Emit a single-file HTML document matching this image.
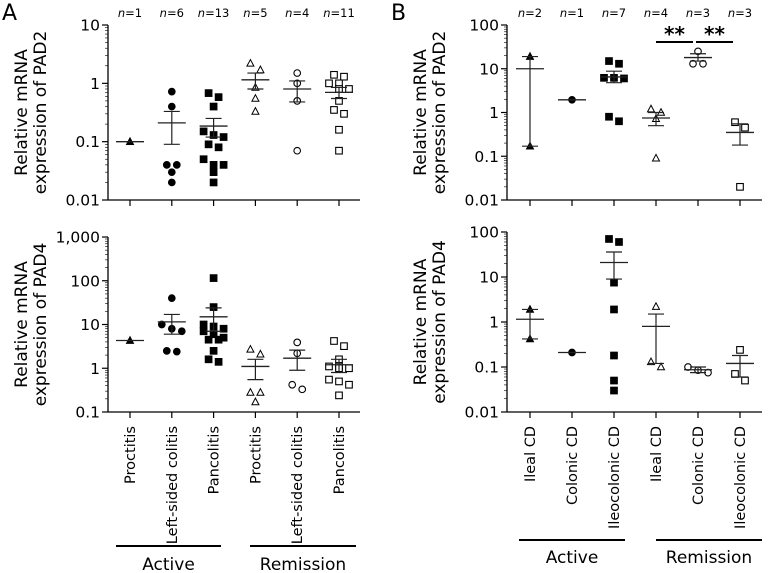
<!DOCTYPE html>
<html><head><meta charset="utf-8"><style>
body{margin:0;background:#fff;}
svg{display:block;font-family:"DejaVu Sans","Liberation Sans",sans-serif;}
</style></head><body>
<svg id="fig" width="775" height="573" viewBox="0 0 775 573"></svg>
<script>
// ---------- Data ----------
const catsA = ["Proctitis","Left-sided colitis","Pancolitis","Proctitis","Left-sided colitis","Pancolitis"];
const catsB = ["Ileal CD","Colonic CD","Ileocolonic CD","Ileal CD","Colonic CD","Ileocolonic CD"];
const nA = ["n=1","n=6","n=13","n=5","n=4","n=11"];
const nB = ["n=2","n=1","n=7","n=4","n=3","n=3"];
const shapes = ["tri","circ","sq","tri","circ","sq"];
const filled = [true,true,true,false,false,false];

const a2Points = [[0.1],[0.72,0.4,0.04,0.04,0.03,0.02],[0.68,0.58,0.4,0.15,0.13,0.12,0.09,0.08,0.05,0.04,0.04,0.03,0.02],[2.2,1.7,0.85,0.55,0.33],[1.5,1.0,0.5,0.07],[1.4,1.3,1.0,1.0,0.8,0.8,0.5,0.35,0.3,0.16,0.07]];
const a2Mean = [0.1,0.21,0.185,1.15,0.8,0.7];
const a2Lo = [0.1,0.09,0.12,0.8,0.48,0.55];
const a2Hi = [0.1,0.33,0.25,1.5,1.1,0.85];

const a4Points = [[4.3],[40,10,8,7,2.5,2.4],[115,25,10,9,8,7,6,5,4.5,4.5,2.5,1.6,1.4],[2.7,2.1,0.28,0.28,0.17],[3.9,2.2,0.42,0.33],[4.2,3.2,1.6,1.1,1.0,1.0,1.1,0.55,0.5,0.42,0.24]];
const a4Mean = [4.3,11.5,15,1.1,1.7,1.2];
const a4Lo = [4.3,6,7,0.55,0.9,0.8];
const a4Hi = [4.3,17,24,1.6,2.6,1.6];

const b2Points = [[19,0.17],[1.95],[15,13,6.2,6.2,6,0.8,0.63],[1.2,1.0,0.72,0.09],[25,13,13],[0.6,0.45,0.02]];
const b2Mean = [10,1.95,6.5,0.75,18,0.35];
const b2Lo = [0.17,1.95,4.8,0.5,15,0.18];
const b2Hi = [19,1.95,8.8,1.0,22,0.55];

const b4Points = [[1.9,0.42],[0.21],[70,60,7.5,1.9,0.18,0.05,0.03],[2.2,0.13,0.1],[0.1,0.085,0.075],[0.24,0.07,0.05]];
const b4Mean = [1.15,0.21,21,0.8,0.087,0.12];
const b4Lo = [0.42,0.21,9,0.12,0.075,0.06];
const b4Hi = [1.9,0.21,36,1.5,0.1,0.18];

const a2Ticks = [0.01,0.1,1,10], a2Labels=["0.01","0.1","1","10"];
const a4Ticks = [0.1,1,10,100,1000], a4Labels=["0.1","1","10","100","1,000"];
const b2Ticks = [0.01,0.1,1,10,100], b2Labels=["0.01","0.1","1","10","100"];
const b4Ticks = [0.01,0.1,1,10,100], b4Labels=["0.01","0.1","1","10","100"];

// ---------- Drawing ----------
const svg=document.getElementById('fig');
const NS="http://www.w3.org/2000/svg";
function mk(tag,attrs,parent,text){const e=document.createElementNS(NS,tag);for(const k in attrs)e.setAttribute(k,attrs[k]);if(text!==undefined)e.textContent=text;(parent||svg).appendChild(e);return e;}

function panel(cfg){
  const g=mk('g',{});
  
  
  const lmin=Math.log10(cfg.ymin),lmax=Math.log10(cfg.ymax);
  const y=v=>cfg.bottom-(Math.log10(v)-lmin)/(lmax-lmin)*(cfg.bottom-cfg.top);
  const x=i=>cfg.x0+i*cfg.dx;
  const ax=mk('line',{x1:cfg.left,y1:cfg.top,x2:cfg.left,y2:cfg.bottom,stroke:'#000','stroke-width':1.3},g);
  
  const xa=mk('line',{x1:cfg.left,y1:cfg.bottom,x2:cfg.right,y2:cfg.bottom,stroke:'#000','stroke-width':1.3},g);
  
  for(let d=lmin;d<lmax;d++){for(let m=2;m<10;m++){const yy=y(m*Math.pow(10,d));mk('line',{x1:cfg.left-3,y1:yy,x2:cfg.left,y2:yy,stroke:'#000','stroke-width':0.6},g);}}
  cfg.ticks.forEach((t,i)=>{const yy=y(t);mk('line',{x1:cfg.left-6,y1:yy,x2:cfg.left,y2:yy,stroke:'#000','stroke-width':1.2},g);
    const tl=mk('text',{x:cfg.left-8,y:yy+5.5,'text-anchor':'end','font-size':15.5},g,cfg.tickLabels[i]);
    });
  const ty=(cfg.top+cfg.bottom)/2;
  const t1=mk('text',{transform:`translate(${cfg.titleX},${ty}) rotate(-90)`,'text-anchor':'middle','font-size':17},g);
  
  mk('tspan',{x:0,y:0},t1,'Relative mRNA');mk('tspan',{x:0,y:19},t1,'expression of '+cfg.gene);
  for(let i=0;i<6;i++){
    const cx=x(i);
    mk('line',{x1:cx,y1:cfg.bottom,x2:cx,y2:cfg.bottom+6,stroke:'#000','stroke-width':1.2},g);
    if(cfg.nLabels){const n=mk('text',{x:cx,y:cfg.top-8,'text-anchor':'middle','font-size':11.5},g);
      
      mk('tspan',{'font-style':'italic'},n,'n');mk('tspan',{},n,cfg.nLabels[i].slice(1));}
    if(cfg.cats){const c=mk('text',{transform:`translate(${cx+5},${cfg.bottom+14}) rotate(-90)`,'text-anchor':'end','font-size':14.5},g,cfg.cats[i]);
      }
    // points: simple beeswarm, clusters anchored at first member, max 3 wide
    const pts=cfg.points[i].map(v=>({v,yy:y(v)})).sort((a,b)=>a.yy-b.yy);
    const clusters=[];pts.forEach(p=>{const c=clusters[clusters.length-1];if(c&&c.length<3&&p.yy-c[0].yy<7)c.push(p);else clusters.push([p]);});
    clusters.forEach(c=>{c.forEach((p,k)=>{const px=cx+(k-(c.length-1)/2)*10;
      const s=shapes[i],f=filled[i]?'#000':'#fff';let m;
      if(s==='circ')m=mk('circle',{cx:px,cy:p.yy,r:3.3,fill:f,stroke:'#000','stroke-width':1.1},g);
      else if(s==='sq')m=mk('rect',{x:px-3.3,y:p.yy-3.3,width:6.6,height:6.6,fill:f,stroke:'#000','stroke-width':1.1},g);
      else m=mk('polygon',{points:`${px},${p.yy-3.8} ${px-3.5},${p.yy+2.8} ${px+3.5},${p.yy+2.8}`,fill:f,stroke:'#000','stroke-width':1},g);
      });});
    const mY=y(cfg.mean[i]),lo=y(cfg.lo[i]),hi=y(cfg.hi[i]);
    const ml=mk('line',{x1:cx-14,y1:mY,x2:cx+14,y2:mY,stroke:'#222','stroke-width':1.3},g);
    
    if(cfg.lo[i]!==cfg.hi[i]){
      const eb=mk('path',{d:`M${cx},${hi}V${lo}M${cx-8},${hi}H${cx+8}M${cx-8},${lo}H${cx+8}`,stroke:'#222','stroke-width':1.2,fill:'none'},g);
      }
  }
  return {g,x,y};
}

function groups(g,y,lineX,textY){
  [["Active",lineX[0],lineX[1]],["Remission",lineX[2],lineX[3]]].forEach(([t,a,b])=>{
    const l=mk('line',{x1:a,y1:y,x2:b,y2:y,stroke:'#000','stroke-width':2});
    
    const tx=mk('text',{x:(a+b)/2,y:textY,'text-anchor':'middle','font-size':17},svg,t);
    });
}

const pA=mk('text',{x:2,y:20,'font-size':22},svg,'A');
const pB=mk('text',{x:391,y:20,'font-size':22},svg,'B');

panel({name:'panel-a-pad2',top:25,bottom:200,ymin:0.01,ymax:10,left:108,right:360,x0:130,dx:41.8,ticks:a2Ticks,tickLabels:a2Labels,gene:'PAD2',titleX:27,points:a2Points,mean:a2Mean,lo:a2Lo,hi:a2Hi,nLabels:nA});
panel({name:'panel-a-pad4',top:237,bottom:412,ymin:0.1,ymax:1000,left:108,right:360,x0:130,dx:41.8,ticks:a4Ticks,tickLabels:a4Labels,gene:'PAD4',titleX:27,points:a4Points,mean:a4Mean,lo:a4Lo,hi:a4Hi,cats:catsA});
panel({name:'panel-b-pad2',top:25,bottom:200,ymin:0.01,ymax:100,left:507,right:762,x0:530,dx:42,ticks:b2Ticks,tickLabels:b2Labels,gene:'PAD2',titleX:426,points:b2Points,mean:b2Mean,lo:b2Lo,hi:b2Hi,nLabels:nB});
panel({name:'panel-b-pad4',top:232,bottom:412,ymin:0.01,ymax:100,left:507,right:762,x0:530,dx:42,ticks:b4Ticks,tickLabels:b4Labels,gene:'PAD4',titleX:426,points:b4Points,mean:b4Mean,lo:b4Lo,hi:b4Hi,cats:catsB});

groups(svg,546,[116,221,250,356],570);
groups(svg,540,[519,625,656,762],563);

[[656,693],[696,733]].forEach(([a,b])=>{
  const l=mk('line',{x1:a,y1:42,x2:b,y2:42,stroke:'#000','stroke-width':2});
  
  const t=mk('text',{x:(a+b)/2,y:41,'text-anchor':'middle','font-size':20,'font-weight':'bold'},svg,'**');
  });
</script>
</body></html>
